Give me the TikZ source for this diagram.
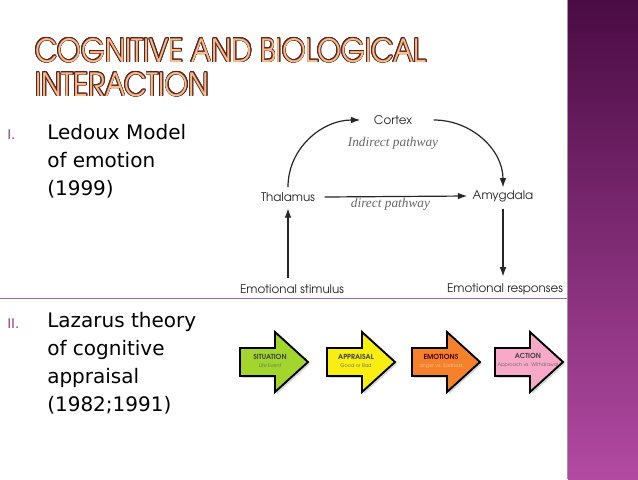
\documentclass[tikz,border=0pt]{standalone}
\usepackage{fontspec}
\usepackage{contour}
\usetikzlibrary{positioning,arrows.meta,shadows}
\setmainfont{DejaVu Sans}
\newfontfamily\gothic{texgyreadventor-regular.otf}
\newfontfamily\gothicbold{texgyreadventor-bold.otf}
\newfontfamily\titlefont[FakeStretch=0.86]{texgyreadventor-regular.otf}
\newfontfamily\pathfont{Liberation Serif}
\definecolor{plumtop}{HTML}{4A0B44}
\definecolor{plumbot}{HTML}{B24AA2}
\definecolor{numcol}{HTML}{93408F}
\definecolor{sepcol}{HTML}{9A6A94}
\definecolor{peach}{HTML}{F8BC88}
\definecolor{titleline}{HTML}{5A2420}
\definecolor{limegreen}{HTML}{A2D62C}
\definecolor{lemon}{HTML}{F8EE12}
\definecolor{tangerine}{HTML}{F5822A}
\definecolor{rosepink}{HTML}{F8A9C8}
\definecolor{emosub}{HTML}{FBC59A}
\contourlength{0.55pt}
\tikzset{
  lbl/.style={font=\gothic\fontsize{8.9}{10}\selectfont, text=black!85, inner sep=2pt},
  path lbl/.style={font=\pathfont\itshape\fontsize{10}{11}\selectfont, text=black!60, inner sep=1pt},
  arr/.style={-{Latex[length=7pt,width=5pt]}, line width=0.9pt, draw=black!85},
  blockarrow/.style={draw=black, line width=1.4pt, line join=miter,
    drop shadow={shadow xshift=1.5pt, shadow yshift=-1.5pt, opacity=.3}},
  btitle/.style={font=\gothicbold\fontsize{5.2}{6}\selectfont, inner sep=0pt},
  bsub/.style={font=\gothic\fontsize{3.7}{4}\selectfont, inner sep=0pt},
  body/.style={anchor=base west, align=left, inner sep=0pt, font=\fontsize{15}{21}\selectfont},
  roman/.style={anchor=base west, inner sep=0pt, text=numcol, font=\fontsize{10}{12}\selectfont}
}
\begin{document}
\begin{tikzpicture}[x=0.75pt,y=-0.75pt]
\useasboundingbox (0,0) rectangle (638,479);
\fill[white] (0,0) rectangle (638,479);
% side bar
\shade[top color=plumtop, bottom color=plumbot] (568,0) rectangle (638,479);
\draw[black!40, line width=0.6pt] (567.5,0) -- (567.5,479);
% title
\node[anchor=base west, inner sep=0pt, text=peach, font=\titlefont\fontsize{24}{28}\selectfont] (title1) at (35,62) {\contour{titleline}{COGNITIVE AND BIOLOGICAL}};
\node[anchor=base west, inner sep=0pt, text=peach, font=\titlefont\fontsize{24}{28}\selectfont] (title2) at (35,96) {\contour{titleline}{INTERACTION}};
% left column (base = last line)
\node[roman] (num1) at (7,139) {I.};
\node[body] (item1) at (47,195) {Ledoux Model\\of emotion\\(1999)};
\draw[sepcol, line width=0.8pt] (0,298.5) -- (567,298.5);
\node[roman] (num2) at (7,328) {II.};
\node[body] (item2) at (47,411) {Lazarus theory\\of cognitive\\appraisal\\(1982;1991)};
% Ledoux model
\node[lbl] (cortex) at (393,120) {Cortex};
\node[path lbl, below=6pt of cortex] (indirect) {Indirect pathway};
\node[lbl] (thal) at (288,197) {Thalamus};
\node[lbl] (amyg) at (503,196) {Amygdala};
\node[lbl] (stim) at (292,289) {Emotional stimulus};
\node[lbl] (resp) at (505,289) {Emotional responses};
\draw[arr] ([yshift=2pt]thal.north) to[out=90,in=180] ([xshift=-8pt]cortex.west);
\draw[arr] ([xshift=14pt]cortex.east) to[out=0,in=90] (amyg.north);
\draw[arr] ([xshift=5pt]thal.east) -- ([xshift=-2pt]amyg.west)
  node[path lbl, midway, below, xshift=-4pt] (direct) {direct pathway};
\draw[arr] ([yshift=3pt]stim.north -| thal) -- ([yshift=-3pt]thal.south);
\draw[arr] ([yshift=-3pt]amyg.south) -- ([yshift=3pt]resp.north -| amyg);
% Lazarus arrows
\draw[blockarrow, fill=limegreen] (240,348) -- ++(35,0) -- ++(0,-16) -- ++(33,30) -- ++(-33,30) -- ++(0,-16) -- ++(-35,0) -- cycle;
\draw[blockarrow, fill=lemon] (327,348) -- ++(35,0) -- ++(0,-16) -- ++(33,30) -- ++(-33,30) -- ++(0,-16) -- ++(-35,0) -- cycle;
\draw[blockarrow, fill=tangerine] (412,348) -- ++(35,0) -- ++(0,-16) -- ++(33,30) -- ++(-33,30) -- ++(0,-16) -- ++(-35,0) -- cycle;
\draw[blockarrow, fill=rosepink] (495,348) -- ++(35,0) -- ++(0,-16) -- ++(33,30) -- ++(-33,30) -- ++(0,-16) -- ++(-35,0) -- cycle;
\node[btitle, text=black!75] (sit) at (270,357) {SITUATION};
\node[bsub, text=black!60, below=2.5pt of sit] (sitsub) {Life Event};
\node[btitle, text=black!75] (app) at (356,357) {APPRAISAL};
\node[bsub, text=black!60, below=2.5pt of app] (appsub) {Good or Bad};
\node[btitle, text=black!70!red] (emo) at (441,357) {EMOTIONS};
\node[bsub, text=emosub, below=2.5pt of emo] (emosub) {anger vs. Sadness};
\node[btitle, text=black!75] (act) at (528,356) {ACTION};
\node[bsub, text=black!60, below=2.5pt of act] (actsub) {Approach vs. Withdrawal};
\end{tikzpicture}
\end{document}
